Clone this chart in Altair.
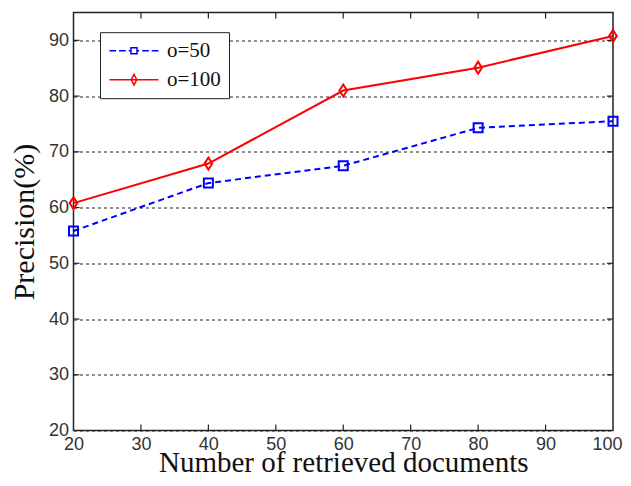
import altair as alt
import pandas as pd

docs = [20, 40, 60, 80, 100]
o50 = [55.8, 64.4, 67.5, 74.3, 75.5]
o100 = [60.8, 67.9, 81.0, 85.1, 90.8]
series_names = ["o=50", "o=100"]
x_ticks = [30, 40, 50, 60, 70, 80, 90]
y_ticks = [30, 40, 50, 60, 70, 80, 90]
x_labels = [20, 30, 40, 50, 60, 70, 80, 90, 100]
y_labels = [20, 30, 40, 50, 60, 70, 80, 90]
x_dom = [20, 100]
y_dom = [20, 95]

rows = []
for name, vals in zip(series_names, [o50, o100]):
    for d, v in zip(docs, vals):
        rows.append({"docs": d, "prec": v, "series": name})
df = pd.DataFrame(rows)

# inward tick marks (box style), built from tick values in data space
xl = (x_dom[1] - x_dom[0]) * 6 / 539.5
yl = (y_dom[1] - y_dom[0]) * 6 / 418
trows = []
for t in x_ticks:
    trows.append({"x": t, "x2": t, "y": y_dom[0], "y2": y_dom[0] + yl})
    trows.append({"x": t, "x2": t, "y": y_dom[1], "y2": y_dom[1] - yl})
for t in y_ticks:
    trows.append({"x": x_dom[0], "x2": x_dom[0] + xl, "y": t, "y2": t})
    trows.append({"x": x_dom[1], "x2": x_dom[1] - xl, "y": t, "y2": t})
tdf = pd.DataFrame(trows)

xs = alt.Scale(domain=x_dom, nice=False, zero=False)
ys = alt.Scale(domain=y_dom, nice=False, zero=False)

xaxis = alt.Axis(values=x_labels, ticks=False, domain=False, grid=False, labelFlush=False,
                 labelFont="Liberation Sans", labelFontSize=18, labelColor="#333333",
                 labelPadding=5,
                 labelOffset={"condition": {"test": "datum.value == 100", "value": -6}, "value": 0},
                 title="Number of retrieved documents",
                 titleFont="Liberation Serif", titleFontSize=29, titleFontWeight="normal",
                 titleColor="#111111", titleY=41, titleBaseline="alphabetic")
yaxis = alt.Axis(values=y_labels, ticks=False, domain=False, grid=True, labelFlush=False,
                 gridDash=[3, 3], gridColor="#222222", gridWidth=1,
                 labelFont="Liberation Sans", labelFontSize=18, labelColor="#333333",
                 labelPadding=5, title="Precision(%)",
                 titleFont="Liberation Serif", titleFontSize=30, titleFontWeight="normal",
                 titleColor="#111111", titleX=-40, titleBaseline="alphabetic")

# legend symbols: line sample + marker in one path
leg50 = ("M-3,0H-0.8M0.2,0H2.4M3.4,0H4.17M6.17,0H6.9M7.9,0H10.1M11.1,0H13.33"
         "M4.17,-1H6.17V1H4.17Z")
leg100 = "M-3,0H13.33M5.17,-1.8L6.07,0L5.17,1.8L4.27,0Z"
marker50 = "M-1,-1H1V1H-1Z"
marker100 = "M0,-1.33L0.85,0L0,1.33L-0.85,0Z"

legend = alt.Legend(orient="none", legendX=26.5, legendY=19.7, title=None,
                    symbolSize=36, symbolStrokeWidth=1.5, symbolFillColor="transparent",
                    symbolOpacity=1,
                    labelFont="Liberation Serif", labelFontSize=21,
                    labelColor="#111111", labelOffset=38,
                    strokeColor="#222222", fillColor="white",
                    padding=8, rowPadding=7)

cscale = alt.Scale(domain=series_names, range=["#0000ff", "#ff0000"])
color = alt.Color("series:N", scale=cscale, legend=legend)

base = alt.Chart(df)
X = alt.X("docs:Q", scale=xs)
Y = alt.Y("prec:Q", scale=ys)

line50 = base.transform_filter(alt.datum.series == "o=50").mark_line(
    strokeWidth=2, strokeDash=[6, 4]).encode(
    x=alt.X("docs:Q", scale=xs, axis=xaxis), y=alt.Y("prec:Q", scale=ys, axis=yaxis), color=color)
line100 = base.transform_filter(alt.datum.series == "o=100").mark_line(
    strokeWidth=2).encode(x=X, y=Y, color=color)
pts50 = base.transform_filter(alt.datum.series == "o=50").mark_point(
    shape=marker50, filled=False, strokeWidth=2, size=81, opacity=1).encode(x=X, y=Y, color=color)
pts100 = base.transform_filter(alt.datum.series == "o=100").mark_point(
    shape=marker100, filled=False, strokeWidth=2, size=81, opacity=1).encode(x=X, y=Y, color=color)
legend_layer = base.transform_filter(alt.datum.docs < 0).mark_point(
    filled=False, strokeWidth=1.5, size=36, opacity=1).encode(
    x=X, y=Y, color=color,
    shape=alt.Shape("series:N", scale=alt.Scale(domain=series_names, range=[leg50, leg100]),
                    legend=legend))
ticks = alt.Chart(tdf).mark_rule(color="#222222", strokeWidth=1.2).encode(
    x=alt.X("x:Q", scale=xs), x2="x2", y=alt.Y("y:Q", scale=ys), y2="y2")

chart = alt.layer(ticks, line50, line100, pts50, pts100, legend_layer).properties(
    width=539.5, height=418,
    autosize=alt.AutoSizeParams(type="none"),
    padding={"left": 65.5, "top": 4.5, "right": 10, "bottom": 47.5},
    background="white",
).configure_view(stroke="#222222", strokeWidth=1.5).configure_legend(
    labelFont="Liberation Serif", labelFontSize=21, labelColor="#111111")

chart.save("out.html", embed_options={"renderer": "svg", "actions": False})
